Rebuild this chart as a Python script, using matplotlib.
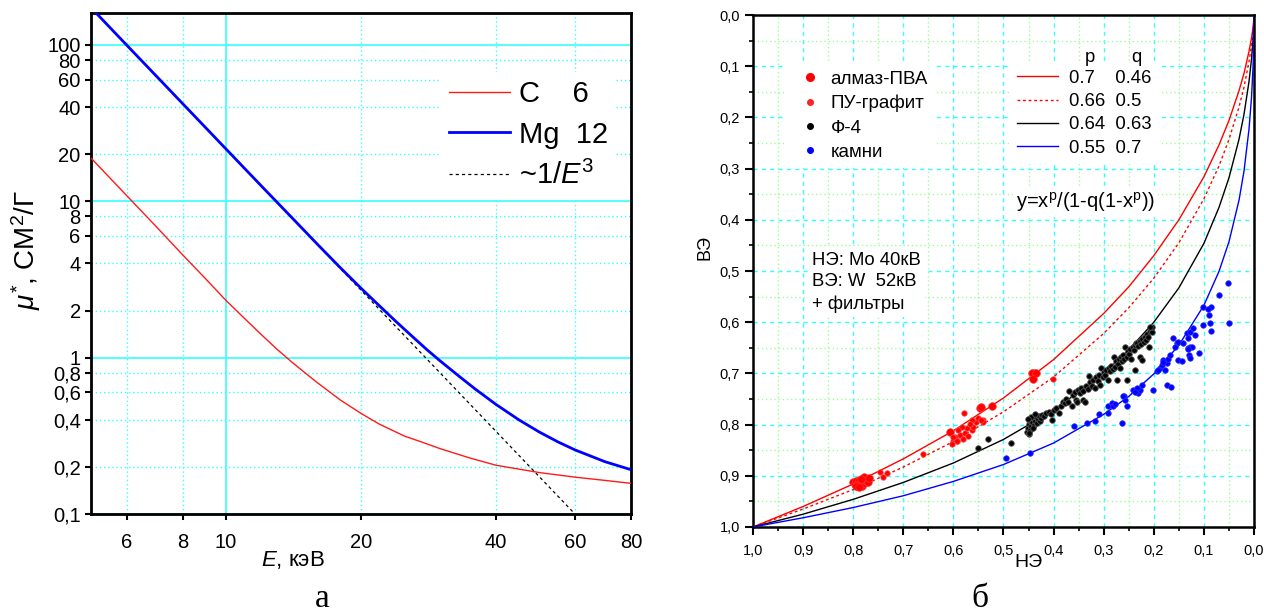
import matplotlib
matplotlib.use('Agg')
import matplotlib.pyplot as plt
from matplotlib.ticker import FixedLocator, MultipleLocator, FuncFormatter
from matplotlib.lines import Line2D

plt.rcParams['font.family'] = ['Liberation Sans', 'DejaVu Sans']
plt.rcParams['mathtext.fontset'] = 'custom'
plt.rcParams['mathtext.rm'] = 'Liberation Sans'
plt.rcParams['mathtext.it'] = 'Liberation Sans:italic'

# ---- panel a: mu*(E), log-log
energy_c = [5, 6, 7, 8, 9, 10, 11, 12, 13, 14, 15, 16, 18, 20, 22, 25, 27, 30, 35, 40, 50, 60, 70, 80]
mu_c = [18.9, 10.9, 6.85, 4.55, 3.2, 2.32, 1.78, 1.40, 1.13, 0.94, 0.80, 0.69, 0.535, 0.44, 0.375,
        0.315, 0.292, 0.262, 0.228, 0.205, 0.184, 0.172, 0.164, 0.157]

energy_mg = [5, 6, 7, 8, 10, 12, 14, 16, 18, 20, 22, 24, 26, 28, 30, 33, 36, 40, 45, 50, 55, 60, 70, 80]
mu_mg = [173, 100, 63, 42.2, 21.6, 12.5, 7.9, 5.3, 3.75, 2.78, 2.14, 1.69, 1.37, 1.13, 0.955, 0.765,
         0.628, 0.502, 0.40, 0.334, 0.289, 0.257, 0.216, 0.192]

energy_e3 = [5, 60]
mu_e3 = [173, 0.1]

# ---- panel b: ВЭ vs НЭ
fit_x = [1.0, 0.9, 0.8, 0.7, 0.6, 0.5, 0.4, 0.3, 0.25, 0.2, 0.15, 0.1, 0.07, 0.05, 0.03, 0.02, 0.01,
         0.005, 0.002, 0.001, 0.0002, 0.0]
fit_1 = [1.0, 0.960, 0.916, 0.867, 0.812, 0.748, 0.673, 0.583, 0.531, 0.470, 0.400, 0.316, 0.254,
         0.206, 0.148, 0.114, 0.071, 0.045, 0.024, 0.015, 0.005, 0.0]
fit_2 = [1.0, 0.965, 0.927, 0.883, 0.833, 0.775, 0.707, 0.622, 0.572, 0.514, 0.445, 0.359, 0.295,
         0.243, 0.180, 0.141, 0.091, 0.059, 0.033, 0.021, 0.007, 0.0]
fit_3 = [1.0, 0.975, 0.946, 0.913, 0.875, 0.829, 0.772, 0.700, 0.654, 0.600, 0.533, 0.446, 0.376,
         0.318, 0.243, 0.194, 0.130, 0.086, 0.049, 0.032, 0.012, 0.0]
fit_4 = [1.0, 0.982, 0.962, 0.939, 0.911, 0.878, 0.836, 0.780, 0.745, 0.701, 0.645, 0.567, 0.501,
         0.443, 0.362, 0.305, 0.223, 0.161, 0.102, 0.071, 0.030, 0.0]
fit_labels = ['0.7    0.46', '0.66  0.5', '0.64  0.63', '0.55  0.7']

almaz_x = [0.800, 0.797, 0.794, 0.792, 0.790, 0.788, 0.786, 0.784, 0.782, 0.780, 0.778, 0.776, 0.774,
           0.772, 0.770, 0.779, 0.785, 0.768, 0.795, 0.789,
           0.607, 0.547, 0.544, 0.522, 0.439, 0.443, 0.436, 0.441]
almaz_y = [0.913, 0.917, 0.911, 0.919, 0.914, 0.908, 0.917, 0.912, 0.920, 0.909, 0.915, 0.905, 0.911,
           0.908, 0.913, 0.902, 0.906, 0.905, 0.920, 0.921,
           0.814, 0.768, 0.765, 0.764, 0.699, 0.699, 0.700, 0.711]

pu_x = [0.746, 0.733, 0.740, 0.660, 0.402, 0.597, 0.587, 0.577, 0.593, 0.580, 0.570, 0.563, 0.573,
        0.583, 0.560, 0.554, 0.550, 0.563, 0.540, 0.567, 0.600, 0.590, 0.579, 0.540, 0.544,
        0.600, 0.593, 0.603]
pu_y = [0.892, 0.895, 0.902, 0.857, 0.710, 0.824, 0.820, 0.817, 0.833, 0.829, 0.822, 0.811, 0.807,
        0.805, 0.804, 0.794, 0.788, 0.791, 0.791, 0.798, 0.833, 0.811, 0.777, 0.794, 0.791,
        0.824, 0.833, 0.837]

f4_x = [0.550, 0.530, 0.486,
        0.454, 0.452, 0.450, 0.448, 0.447, 0.445, 0.444, 0.442, 0.440, 0.438, 0.436, 0.434, 0.432,
        0.430, 0.428, 0.446, 0.451, 0.449, 0.441, 0.426, 0.424, 0.437, 0.450,
        0.420, 0.415, 0.410, 0.405, 0.404, 0.400, 0.395, 0.389, 0.386, 0.381, 0.378, 0.375, 0.372,
        0.369, 0.364, 0.362, 0.358, 0.355, 0.353, 0.352, 0.348, 0.345, 0.342, 0.341, 0.337, 0.335,
        0.332, 0.330, 0.327, 0.324, 0.321, 0.318, 0.315, 0.312, 0.310, 0.307, 0.305, 0.302, 0.300,
        0.297, 0.295, 0.292, 0.290, 0.288, 0.285, 0.282, 0.280, 0.278, 0.276, 0.274, 0.272, 0.270,
        0.268, 0.266, 0.264, 0.262, 0.259, 0.257, 0.254, 0.254, 0.252, 0.249, 0.247, 0.245, 0.242,
        0.240, 0.2375, 0.2375, 0.235, 0.233, 0.231, 0.228, 0.2275, 0.226, 0.224, 0.223, 0.220,
        0.218, 0.215, 0.213, 0.211, 0.209, 0.208, 0.206, 0.204, 0.203, 0.207]
f4_y = [0.846, 0.829, 0.835,
        0.815, 0.806, 0.799, 0.792, 0.810, 0.803, 0.795, 0.788, 0.800, 0.793, 0.786, 0.797, 0.790,
        0.784, 0.793, 0.785, 0.790, 0.818, 0.806, 0.787, 0.781, 0.780, 0.817,
        0.783, 0.778, 0.776, 0.780, 0.791, 0.772, 0.768, 0.778, 0.763, 0.755, 0.758, 0.750, 0.756,
        0.735, 0.764, 0.742, 0.737, 0.752, 0.755, 0.733, 0.738, 0.728, 0.735, 0.752, 0.755, 0.725,
        0.731, 0.705, 0.716, 0.724, 0.712, 0.728, 0.708, 0.714, 0.703, 0.723, 0.690, 0.708, 0.697,
        0.703, 0.693, 0.712, 0.689, 0.696, 0.685, 0.692, 0.668, 0.688, 0.676, 0.713, 0.682, 0.672,
        0.690, 0.668, 0.675, 0.664, 0.671, 0.648, 0.713, 0.667, 0.656, 0.663, 0.652, 0.672, 0.648,
        0.655, 0.693, 0.644, 0.640, 0.640, 0.646, 0.636, 0.667, 0.642, 0.674, 0.632, 0.638,
        0.628, 0.634, 0.624, 0.628, 0.648, 0.618, 0.614, 0.619, 0.610, 0.609]

stone_x = [0.494, 0.447, 0.359, 0.334, 0.317, 0.309, 0.291, 0.291, 0.284, 0.281, 0.277, 0.264, 0.254,
           0.259, 0.257, 0.261, 0.241, 0.231, 0.228, 0.224, 0.234, 0.2375, 0.201, 0.194, 0.188,
           0.184, 0.174, 0.181, 0.171, 0.168, 0.178, 0.173, 0.166, 0.161, 0.154, 0.158, 0.151,
           0.141, 0.151, 0.144, 0.131, 0.128, 0.124, 0.129, 0.109, 0.134, 0.128, 0.121, 0.131,
           0.118, 0.101, 0.088, 0.0865, 0.089, 0.0865, 0.101, 0.091, 0.049, 0.051, 0.069, 0.191,
           0.131, 0.128, 0.181]
stone_y = [0.866, 0.856, 0.803, 0.796, 0.792, 0.779, 0.777, 0.764, 0.757, 0.764, 0.760, 0.796, 0.763,
           0.744, 0.751, 0.744, 0.732, 0.738, 0.732, 0.723, 0.729, 0.736, 0.732, 0.695, 0.690,
           0.684, 0.679, 0.674, 0.671, 0.664, 0.693, 0.723, 0.727, 0.631, 0.641, 0.648, 0.638,
           0.641, 0.674, 0.675, 0.651, 0.648, 0.648, 0.664, 0.661, 0.622, 0.619, 0.612, 0.631,
           0.625, 0.605, 0.602, 0.617, 0.586, 0.571, 0.570, 0.575, 0.601, 0.523, 0.547, 0.693,
           0.653, 0.669, 0.677]

cyan = '#33ffff'
green = '#99ff99'


def comma_fmt(v, pos):
    return ('%g' % v).replace('.', ',')


def comma1_fmt(v, pos):
    return ('%.1f' % v).replace('.', ',')


fig = plt.figure(figsize=(12.64, 6.16), dpi=100)

# ================= panel a =================
ax = fig.add_axes([0.072, 0.1656, 0.4272, 0.8133])
ax.set_xscale('log')
ax.set_yscale('log')
ax.plot(energy_c, mu_c, color='#ff1a1a', lw=1.0, label='C    6', zorder=3)
ax.plot(energy_mg, mu_mg, color='#0000ff', lw=2.0, label='Mg  12', zorder=3)
ax.plot(energy_e3, mu_e3, color='black', lw=0.9, ls=(0, (2.5, 2.5)), label='~1/$E^{3}$', zorder=2)
ax.set_xlim(5, 80)
ax.set_ylim(0.1, 160)

ax.xaxis.set_major_locator(FixedLocator([10]))
ax.xaxis.set_minor_locator(FixedLocator([6, 8, 20, 40, 60, 80]))
ax.yaxis.set_major_locator(FixedLocator([0.1, 1, 10, 100]))
ax.yaxis.set_minor_locator(FixedLocator([0.2, 0.4, 0.6, 0.8, 2, 4, 6, 8, 20, 40, 60, 80]))
for a in (ax.xaxis, ax.yaxis):
    a.set_major_formatter(FuncFormatter(comma_fmt))
    a.set_minor_formatter(FuncFormatter(comma_fmt))
ax.tick_params(which='both', direction='out', length=4, width=1.5, labelsize=14.5,
               top=False, right=False)
ax.tick_params(axis='x', which='both', pad=10)
ax.grid(which='major', color=cyan, lw=1.2, ls='-')
ax.grid(which='minor', color=cyan, lw=1.0, ls=(0, (1, 2)))
for s in ax.spines.values():
    s.set_linewidth(2)

ax.set_xlabel('$E$, кэВ', fontsize=16)
ax.xaxis.set_label_coords(0.374, -0.070)
ax.set_ylabel('$\\mu^{*}$, СМ$^{2}$/Г', fontsize=20)
ax.yaxis.set_label_coords(-0.089, 0.527)

leg = ax.legend(loc='upper left', bbox_to_anchor=(0.646, 0.883), fontsize=21, frameon=True,
                facecolor='white', edgecolor='none', framealpha=1, fancybox=False,
                handlelength=2.1, handletextpad=0.3, labelspacing=0.42, borderpad=0.3,
                borderaxespad=0)

# ================= panel b =================
ax2 = fig.add_axes([0.5957, 0.1445, 0.3964, 0.8311])
ax2.set_xlim(1.0, 0.0)
ax2.set_ylim(1.0, 0.0)
l1, = ax2.plot(fit_x, fit_1, color='#ff0000', lw=1.0, zorder=3)
l2, = ax2.plot(fit_x, fit_2, color='#ff0000', lw=1.0, ls=(0, (2, 2)), zorder=3)
l3, = ax2.plot(fit_x, fit_3, color='black', lw=1.0, zorder=3)
l4, = ax2.plot(fit_x, fit_4, color='#0000ff', lw=1.0, zorder=3)

ax2.scatter(almaz_x, almaz_y, s=30, color='#ff0000', edgecolors='#ff3333', linewidths=0.5, zorder=4)
ax2.scatter(pu_x, pu_y, s=16, color='#ff0000', edgecolors='#ff5555', linewidths=0.5, zorder=4)
ax2.scatter(f4_x, f4_y, s=16, color='black', edgecolors='#555555', linewidths=0.6, zorder=4)
ax2.scatter(stone_x, stone_y, s=16, color='#0000ff', edgecolors='#3333ff', linewidths=0.5, zorder=4)

ax2.xaxis.set_major_locator(MultipleLocator(0.1))
ax2.xaxis.set_minor_locator(MultipleLocator(0.05))
ax2.yaxis.set_major_locator(MultipleLocator(0.1))
ax2.yaxis.set_minor_locator(MultipleLocator(0.05))
ax2.xaxis.set_major_formatter(FuncFormatter(comma1_fmt))
ax2.yaxis.set_major_formatter(FuncFormatter(comma1_fmt))
ax2.tick_params(which='major', direction='out', length=6, width=1.5, labelsize=10.5)
ax2.tick_params(which='minor', direction='out', length=3, width=1.2)
ax2.tick_params(axis='x', which='major', pad=6)
ax2.grid(which='major', color=cyan, lw=1.0, ls=(0, (3, 3)))
ax2.grid(which='minor', color=green, lw=1.0, ls=(0, (1, 2)))
for s in ax2.spines.values():
    s.set_linewidth(1.8)

ax2.set_ylabel('ВЭ', fontsize=13)
ax2.yaxis.set_label_coords(-0.078, 0.545)
ax2.set_xlabel('НЭ', fontsize=14)
ax2.xaxis.set_label_coords(0.549, -0.052)

mk = [Line2D([], [], ls='none', marker='o', color='#ff0000', markersize=5.5),
      Line2D([], [], ls='none', marker='o', color='#ff2222', markersize=4),
      Line2D([], [], ls='none', marker='o', color='black', markersize=4),
      Line2D([], [], ls='none', marker='o', color='#0000ff', markersize=4)]
leg1 = ax2.legend(mk, ['алмаз-ПВА', 'ПУ-графит', 'Ф-4', 'камни'], loc='upper left',
                  bbox_to_anchor=(0.0614, 0.906), fontsize=13.5, frameon=True, facecolor='white',
                  edgecolor='none', framealpha=1, fancybox=False, handlelength=2.0,
                  handletextpad=0.1, labelspacing=0.38, borderpad=0.4, borderaxespad=0)
ax2.add_artist(leg1)
leg2 = ax2.legend([l1, l2, l3, l4], fit_labels, loc='upper left', bbox_to_anchor=(0.512, 0.908),
                  fontsize=13.3, frameon=True, facecolor='white', edgecolor='none', framealpha=1,
                  fancybox=False, handlelength=2.2, handletextpad=0.6, labelspacing=0.35,
                  borderpad=0.4, borderaxespad=0)
ax2.text(0.672, 0.918, 'p', transform=ax2.transAxes, fontsize=13.3, ha='center', va='center',
         zorder=7, bbox=dict(facecolor='white', edgecolor='none', pad=1))
ax2.text(0.766, 0.918, 'q', transform=ax2.transAxes, fontsize=13.3, ha='center', va='center',
         zorder=7, bbox=dict(facecolor='white', edgecolor='none', pad=1))
ax2.text(0.525, 0.635, 'y=x$^\\mathregular{p}$/(1-q(1-x$^\\mathregular{p}$))', transform=ax2.transAxes,
         fontsize=14.5, ha='left', va='center',
         bbox=dict(facecolor='white', edgecolor='none', pad=2))
ax2.text(0.118, 0.538, 'НЭ: Mo 40кВ\nВЭ: W  52кВ\n+ фильтры', transform=ax2.transAxes,
         fontsize=13.3, ha='left', va='top', linespacing=1.38,
         bbox=dict(facecolor='white', edgecolor='none', pad=3))

fig.text(322 / 1264, 1 - 607 / 616, 'а', fontsize=24, family='Liberation Serif', ha='center', va='baseline')
fig.text(980 / 1264, 1 - 607 / 616, 'б', fontsize=24, family='Liberation Serif', ha='center', va='baseline')

fig.savefig('out.png', dpi=100)
